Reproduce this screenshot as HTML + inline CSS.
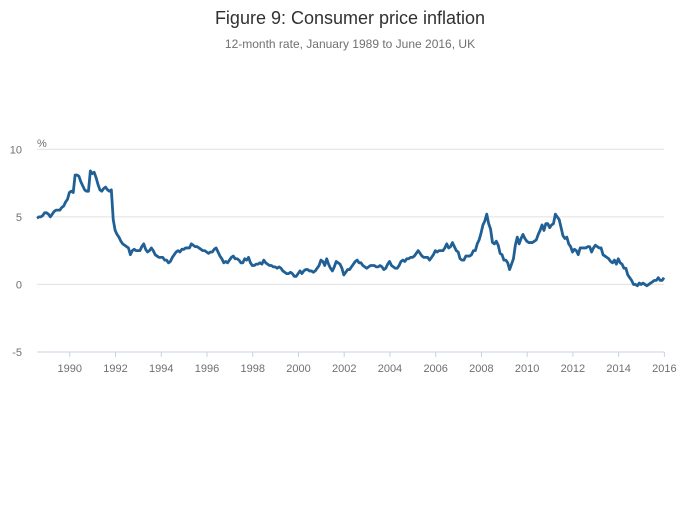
<!DOCTYPE html>
<html><head><meta charset="utf-8"><style>
body{margin:0;background:#fff;font-family:"Liberation Sans",sans-serif}
svg text{font-family:"Liberation Sans",sans-serif}
</style></head><body>
<svg id="chart" width="700" height="502" viewBox="0 0 700 502">
<text x="350" y="24" text-anchor="middle" font-size="18" fill="#323132">Figure 9: Consumer price inflation</text>
<text x="350" y="48" text-anchor="middle" font-size="12" fill="#707071">12-month rate, January 1989 to June 2016, UK</text>
<text x="37" y="147" font-size="11" fill="#707071">%</text>
<g id="grid"></g><g id="xaxis"></g><g id="series"></g>
</svg>
<script>
const yTicks=[10,5,0,-5];
const yearLabels=[1990,1992,1994,1996,1998,2000,2002,2004,2006,2008,2010,2012,2014,2016];
const startYear=1989;
const cpi=[
4.9,5.0,5.0,5.1,5.3,5.3,5.2,5.0,5.2,5.4,5.5,5.5,
5.5,5.7,5.8,6.1,6.3,6.8,6.9,6.8,8.1,8.1,8.0,7.6,
7.3,7.0,6.9,6.9,8.4,8.2,8.3,7.9,7.4,7.0,6.9,7.1,
7.2,7.0,6.9,7.0,4.8,4.0,3.7,3.5,3.2,3.0,2.9,2.8,
2.7,2.2,2.5,2.6,2.5,2.5,2.5,2.8,3.0,2.6,2.4,2.5,
2.7,2.5,2.2,2.1,2.0,2.0,2.0,1.8,1.8,1.6,1.7,2.0,
2.2,2.4,2.5,2.4,2.6,2.6,2.7,2.7,2.7,3.0,2.9,2.8,
2.8,2.7,2.6,2.5,2.5,2.4,2.3,2.4,2.4,2.6,2.7,2.4,
2.1,1.9,1.6,1.7,1.6,1.8,2.0,2.1,1.9,1.9,1.8,1.6,
1.6,1.9,1.8,2.0,1.6,1.4,1.4,1.5,1.5,1.6,1.5,1.8,
1.6,1.5,1.4,1.4,1.3,1.3,1.2,1.3,1.2,1.0,0.9,0.8,
0.8,0.9,0.8,0.6,0.6,0.8,1.0,0.8,1.0,1.1,1.1,1.0,
1.0,0.9,1.0,1.2,1.4,1.8,1.7,1.4,1.9,1.5,1.2,1.0,
1.3,1.7,1.6,1.5,1.2,0.7,0.9,1.1,1.1,1.3,1.5,1.7,
1.8,1.6,1.6,1.4,1.3,1.2,1.3,1.4,1.4,1.4,1.3,1.3,
1.4,1.3,1.1,1.2,1.5,1.7,1.4,1.3,1.2,1.2,1.4,1.7,
1.8,1.7,1.9,1.9,2.0,2.0,2.1,2.3,2.5,2.3,2.1,2.0,
2.0,2.0,1.8,2.0,2.2,2.5,2.4,2.5,2.5,2.5,2.7,3.0,
2.7,2.8,3.1,2.8,2.5,2.4,1.9,1.8,1.8,2.1,2.1,2.1,
2.2,2.5,2.5,3.0,3.3,3.8,4.4,4.7,5.2,4.5,4.1,3.1,
3.0,3.2,2.9,2.3,2.2,1.8,1.8,1.6,1.1,1.5,1.9,2.9,
3.5,3.0,3.4,3.7,3.4,3.2,3.1,3.1,3.1,3.2,3.3,3.7,
4.0,4.4,4.0,4.5,4.5,4.2,4.4,4.5,5.2,5.0,4.8,4.2,
3.6,3.4,3.5,3.0,2.8,2.4,2.6,2.5,2.2,2.7,2.7,2.7,
2.7,2.8,2.8,2.4,2.7,2.9,2.8,2.7,2.7,2.2,2.1,2.0,
1.9,1.7,1.6,1.8,1.5,1.9,1.6,1.5,1.2,1.2,0.7,0.5,
0.3,0.0,0.0,-0.1,0.1,0.0,0.1,0.0,-0.1,0.0,0.1,0.2,
0.3,0.3,0.5,0.3,0.3,0.5
];
const NS='http://www.w3.org/2000/svg';
const x0=37,x1=664,yMin=-5,yMax=10,py0=352,py1=149.3;
function xIdx(i){return x0+(x1-x0)*i/(cpi.length-1);}
function xYear(y){return xIdx((y-startYear-1)*12+17.2);}
function yv(v){return py0+(py1-py0)*(v-yMin)/(yMax-yMin);}
function mk(t,a,p){const e=document.createElementNS(NS,t);for(const k in a)e.setAttribute(k,a[k]);p.appendChild(e);return e;}
const grid=document.getElementById('grid');
yTicks.forEach(v=>{
  if(v!==yMin){const l=mk('line',{x1:x0,x2:x1,y1:yv(v),y2:yv(v),stroke:'#e0e0e0','stroke-width':1},grid);
  
  }
  const t=mk('text',{x:22,y:yv(v)+4,'text-anchor':'end','font-size':11,fill:'#707071'},grid);
  t.textContent=v;
  
  
});
const xa=document.getElementById('xaxis');
const ax=mk('line',{x1:x0,x2:x1,y1:py0,y2:py0,stroke:'#c5d3e5','stroke-width':1},xa);


yearLabels.forEach(y=>{
  const x=xYear(y);
  const tk=mk('line',{x1:x,x2:x,y1:py0,y2:py0+5,stroke:'#c5d3e5','stroke-width':1},xa);
  
  
  const t=mk('text',{x:x,y:372,'text-anchor':'middle','font-size':11,fill:'#707071'},xa);
  t.textContent=y;
  
  
});
const d=cpi.map((v,i)=>(i?'L':'M')+xIdx(i).toFixed(2)+' '+yv(v).toFixed(2)).join(' ');
const path=mk('path',{d:d,fill:'none',stroke:'#206095','stroke-width':2.8,'stroke-linejoin':'round'},document.getElementById('series'));


</script>
</body></html>
